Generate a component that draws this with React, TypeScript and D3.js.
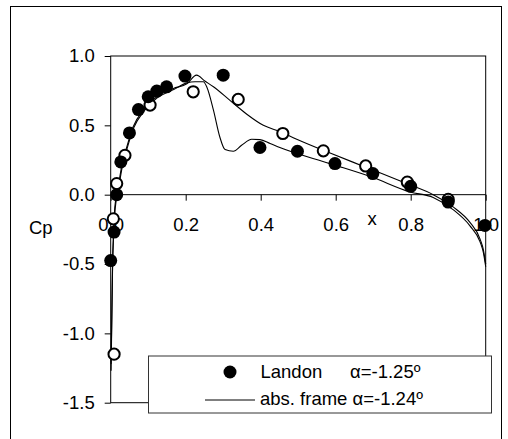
import React, { useEffect, useRef } from 'react';
import * as d3 from 'd3';

// Landon experiment (filled)
const landonX = [0.0, 0.009, 0.016, 0.027, 0.05, 0.074, 0.1, 0.123, 0.149, 0.198, 0.3, 0.398, 0.498, 0.598, 0.699, 0.8, 0.9, 0.998];
const landonCp = [-0.475, -0.27, 0.0, 0.236, 0.445, 0.614, 0.706, 0.747, 0.778, 0.855, 0.862, 0.34, 0.313, 0.224, 0.152, 0.06, -0.053, -0.222];

// second data set (open circles)
const openX = [0.009, 0.007, 0.016, 0.038, 0.105, 0.22, 0.34, 0.459, 0.567, 0.68, 0.791, 0.9];
const openCp = [-1.15, -0.174, 0.08, 0.284, 0.646, 0.742, 0.687, 0.441, 0.316, 0.207, 0.091, -0.034];

// computed curve with the peak
const curveAX = [0.001, 0.003, 0.005, 0.008, 0.011, 0.02, 0.029, 0.043, 0.06, 0.087, 0.123, 0.167, 0.203, 0.229, 0.251, 0.274, 0.318, 0.363, 0.407, 0.451, 0.496, 0.585, 0.683, 0.789, 0.86, 0.914, 0.958, 0.985, 0.994, 1.0];
const curveACp = [-1.22, -0.86, -0.5, -0.26, -0.09, 0.055, 0.2, 0.344, 0.49, 0.61, 0.706, 0.766, 0.8, 0.862, 0.82, 0.778, 0.68, 0.58, 0.5, 0.455, 0.4, 0.3, 0.195, 0.08, 0.0, -0.09, -0.2, -0.32, -0.4, -0.5];

// computed curve with the dip
const curveBX = [0.001, 0.003, 0.005, 0.008, 0.012, 0.021, 0.03, 0.044, 0.061, 0.088, 0.124, 0.168, 0.203, 0.225, 0.247, 0.256, 0.274, 0.291, 0.305, 0.327, 0.349, 0.376, 0.398, 0.425, 0.451, 0.585, 0.696, 0.798, 0.86, 0.914, 0.958, 0.985, 0.994, 1.0];
const curveBCp = [-1.27, -0.9, -0.52, -0.27, -0.1, 0.045, 0.19, 0.335, 0.48, 0.6, 0.698, 0.758, 0.806, 0.814, 0.814, 0.778, 0.61, 0.416, 0.325, 0.313, 0.356, 0.4, 0.397, 0.369, 0.34, 0.224, 0.127, 0.02, -0.02, -0.11, -0.225, -0.34, -0.42, -0.52];

const xTicks = [0, 0.2, 0.4, 0.6, 0.8, 1.0];
const yTicks = [-1.5, -1.0, -0.5, 0.0, 0.5, 1.0];

const FONT = '"Liberation Sans", Arial, sans-serif';
const fmt = (d: number) => d.toFixed(1); // plain hyphen minus, like the original

export default function App() {
  const svgRef = useRef<SVGSVGElement>(null);

  useEffect(() => {
    const svg = d3.select(svgRef.current);
    svg.selectAll('*').remove();

    const x = d3.scaleLinear().domain([0, 1]).range([110.7, 485.7]);
    const y = d3.scaleLinear().domain([-1.5, 1]).range([402.7, 56]);

    // outer frame
    svg.append('rect')
      .attr('x', 10.5).attr('y', 6.5).attr('width', 491).attr('height', 450)
      .attr('fill', 'white').attr('stroke', 'black').attr('stroke-width', 1);

    // plot area box
    svg.append('rect')
      .attr('x', x(0)).attr('y', y(1)).attr('width', x(1) - x(0)).attr('height', y(-1.5) - y(1))
      .attr('fill', 'none').attr('stroke', 'black').attr('stroke-width', 1);

    // y axis
    const yAxis = svg.append('g')
      .attr('transform', `translate(${x(0)},0)`)
      .call(d3.axisLeft(y).tickValues(yTicks).tickSize(6).tickSizeOuter(0).tickPadding(10).tickFormat((d) => fmt(+d)));
    yAxis.select('.domain').remove();

    // x axis along Cp = 0
    const xAxis = svg.append('g')
      .attr('transform', `translate(0,${y(0)})`)
      .call(d3.axisBottom(x).tickValues(xTicks).tickSize(6).tickSizeOuter(0).tickPadding(17).tickFormat((d) => fmt(+d)));
    xAxis.select('.domain').attr('d', `M${x(0)},0H${x(1)}`);

    [yAxis, xAxis].forEach((g) => {
      g.selectAll('text').attr('font-family', FONT).attr('font-size', 18.5).attr('fill', 'black');
      g.selectAll('line').attr('stroke', 'black');
      g.select('.domain').attr('stroke', 'black');
    });

    svg.append('text').attr('x', 29).attr('y', 234)
      .attr('font-family', FONT).attr('font-size', 18.5).text('Cp');
    svg.append('text').attr('x', 372).attr('y', 225).attr('text-anchor', 'middle')
      .attr('font-family', FONT).attr('font-size', 18.5).text('x');

    const line = d3.line<[number, number]>()
      .x((d) => x(d[0]))
      .y((d) => y(d[1]))
      .curve(d3.curveMonotoneX);

    const curveA = curveAX.map((v, i) => [v, curveACp[i]] as [number, number]);
    const curveB = curveBX.map((v, i) => [v, curveBCp[i]] as [number, number]);

    [curveA, curveB].forEach((c) => {
      svg.append('path').datum(c).attr('d', line)
        .attr('fill', 'none').attr('stroke', 'black').attr('stroke-width', 1.1);
    });

    // open circles
    svg.append('g').selectAll('circle')
      .data(openX.map((v, i) => [v, openCp[i]]))
      .join('circle')
      .attr('cx', (d) => x(d[0])).attr('cy', (d) => y(d[1])).attr('r', 5.6)
      .attr('fill', 'white').attr('stroke', 'black').attr('stroke-width', 2);

    // Landon filled circles
    svg.append('g').selectAll('circle')
      .data(landonX.map((v, i) => [v, landonCp[i]]))
      .join('circle')
      .attr('cx', (d) => x(d[0])).attr('cy', (d) => y(d[1])).attr('r', 6.5)
      .attr('fill', 'black');

    // legend
    const lg = svg.append('g');
    lg.append('rect')
      .attr('x', 148.5).attr('y', 356).attr('width', 343).attr('height', 57)
      .attr('fill', 'white').attr('stroke', '#333').attr('stroke-width', 1);
    lg.append('circle').attr('cx', 230).attr('cy', 372).attr('r', 6.5).attr('fill', 'black');
    lg.append('text').attr('x', 260.5).attr('y', 378)
      .attr('font-family', FONT).attr('font-size', 18.5).text('Landon');
    lg.append('text').attr('x', 350).attr('y', 378)
      .attr('font-family', FONT).attr('font-size', 18.5).text('α=-1.25º');
    lg.append('line').attr('x1', 205).attr('x2', 255).attr('y1', 400).attr('y2', 400)
      .attr('stroke', 'black').attr('stroke-width', 1);
    lg.append('text').attr('x', 260).attr('y', 405)
      .attr('font-family', FONT).attr('font-size', 18.5).text('abs. frame α=-1.24º');
  }, []);

  return (
    <svg
      ref={svgRef}
      width={508}
      height={439}
      style={{ position: 'absolute', left: 0, top: 0, background: 'white' }}
    />
  );
}
